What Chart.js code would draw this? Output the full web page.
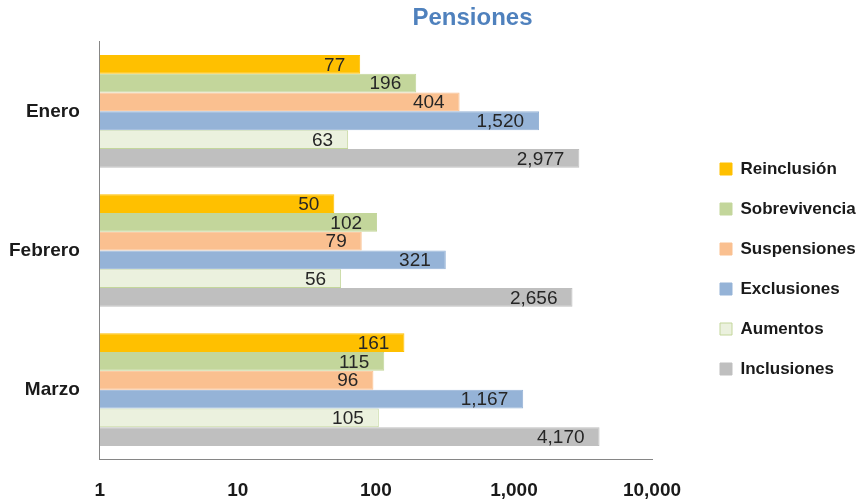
<!DOCTYPE html>
<html lang="es">
<head>
  <meta charset="UTF-8">
  <title>Pensiones</title>
  <script src="https://cdn.jsdelivr.net/npm/chart.js"></script>
  <style>
    body { margin: 0; background: #fff; }
    canvas { display: block; }
  </style>
</head>
<body>
  <canvas id="chart" width="867" height="502"></canvas>

  <script>
    const months = ['Enero', 'Febrero', 'Marzo'];
    const seriesNames = ['Reinclusión', 'Sobrevivencia', 'Suspensiones', 'Exclusiones', 'Aumentos', 'Inclusiones'];
    const reinclusion = [77, 50, 161];
    const sobrevivencia = [196, 102, 115];
    const suspensiones = [404, 79, 96];
    const exclusiones = [1520, 321, 1167];
    const aumentos = [63, 56, 105];
    const inclusiones = [2977, 2656, 4170];
    const xTicks = [1, 10, 100, 1000, 10000];

    const fill = ['#FFC000', '#C3D69B', '#FAC090', '#95B3D7', '#EBF1DE', '#BFBFBF'];
    const edge = ['#FFC000', '#C3D69B', '#FAC090', '#95B3D7', '#C3D69B', '#BFBFBF'];
    const values = [reinclusion, sobrevivencia, suspensiones, exclusiones, aumentos, inclusiones];

    const fmt = v => Number(v).toLocaleString('en-US');
    const font = '"Liberation Sans", Arial, sans-serif';

    // value labels at the inner end of each bar
    const barLabels = {
      id: 'barLabels',
      afterDatasetsDraw(chart) {
        const ctx = chart.ctx;
        ctx.save();
        ctx.font = '19px ' + font;
        ctx.fillStyle = '#262626';
        ctx.textAlign = 'right';
        ctx.textBaseline = 'middle';
        chart.data.datasets.forEach((ds, i) => {
          chart.getDatasetMeta(i).data.forEach((bar, j) => {
            ctx.fillText(fmt(ds.data[j]), bar.x - 15, bar.y + 1);
          });
        });
        ctx.restore();
      }
    };

    // keep legend wide and push legend/title right like the original
    const placeBoxes = {
      id: 'placeBoxes',
      beforeLayout(chart) {
        const lg = chart.legend;
        if (!lg || lg._wide) return;
        const fit = lg.fit;
        lg.fit = function () { fit.call(this); this.width = 215; };
        lg._wide = true;
      },
      afterLayout(chart) {
        chart.legend.left += 45;
        chart.legend.right += 45;
        chart.legend.top += 18;
        chart.legend.bottom += 18;
        chart.titleBlock.left += 39;
        chart.titleBlock.right += 39;
      }
    };

    new Chart(document.getElementById('chart').getContext('2d'), {
      type: 'bar',
      data: {
        labels: months,
        datasets: seriesNames.map((name, i) => ({
          label: name,
          data: values[i],
          backgroundColor: fill[i],
          borderColor: edge[i],
          borderWidth: 1,
          categoryPercentage: 0.81,
          barPercentage: 1
        }))
      },
      options: {
        indexAxis: 'y',
        responsive: false,
        animation: false,
        layout: { padding: { left: 0, right: 0, top: 0, bottom: 0 } },
        plugins: {
          title: {
            display: true,
            text: 'Pensiones',
            color: '#4F81BD',
            font: { family: font, size: 24, weight: 'bold' },
            padding: { top: 4, bottom: 9 }
          },
          legend: {
            position: 'right',
            labels: {
              boxWidth: 12,
              boxHeight: 12,
              padding: 23,
              color: '#1a1a1a',
              font: { family: font, size: 17, weight: 'bold' }
            }
          },
          tooltip: { enabled: false }
        },
        scales: {
          x: {
            type: 'logarithmic',
            min: 1,
            max: 10000,
            afterBuildTicks: scale => { scale.ticks = xTicks.map(v => ({ value: v })); },
            grid: { display: false, tickLength: 20 },
            border: { display: true, color: '#868686', width: 1 },
            ticks: {
              padding: 0,
              color: '#1a1a1a',
              maxRotation: 0,
              autoSkip: false,
              font: { family: font, size: 19, weight: 'bold' },
              callback: v => fmt(v)
            }
          },
          y: {
            grid: { display: false, tickLength: 11 },
            border: { display: true, color: '#868686', width: 1 },
            ticks: {
              padding: 9,
              color: '#1a1a1a',
              font: { family: font, size: 19, weight: 'bold' }
            }
          }
        }
      },
      plugins: [barLabels, placeBoxes]
    });
  </script>
</body>
</html>
